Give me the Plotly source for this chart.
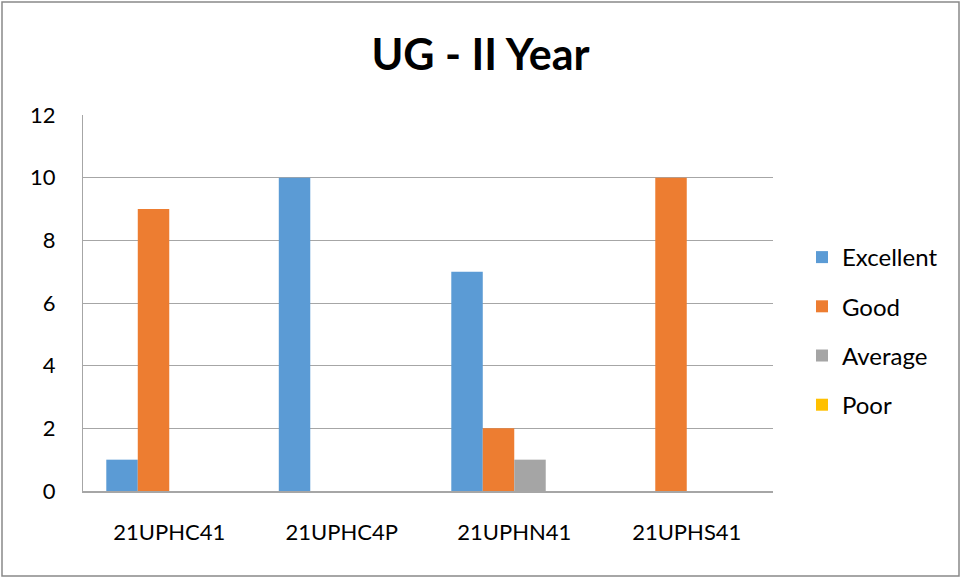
import plotly.graph_objects as go

# data
courses = ["21UPHC41", "21UPHC4P", "21UPHN41", "21UPHS41"]
excellent = [1, 10, 7, 0]
good = [9, 0, 2, 10]
average = [0, 0, 1, 0]
poor = [0, 0, 0, 0]

series = [
    ("Excellent", excellent, "#5B9BD5"),
    ("Good", good, "#ED7D31"),
    ("Average", average, "#A5A5A5"),
    ("Poor", poor, "#FFC000"),
]

font_family = "Lato, Open Sans, sans-serif"

fig = go.Figure()
for name, vals, color in series:
    fig.add_trace(go.Bar(
        x=courses, y=vals, name=name,
        marker=dict(color=color, line=dict(width=0)),
        legendgroup=name,
    ))

fig.update_layout(
    width=961, height=578,
    barmode="group",
    bargap=0.27, bargroupgap=0,
    paper_bgcolor="white", plot_bgcolor="white",
    margin=dict(l=83, r=188, t=115, b=87),
    font=dict(family=font_family, size=22, color="#000000"),
    title=dict(
        text="<b>UG - II Year</b>",
        x=0.5, xref="container", xanchor="center",
        y=0.905, yanchor="middle",
        font=dict(size=43, family=font_family),
    ),
    legend=dict(
        x=1.042, xanchor="left", y=0.4255, yanchor="middle",
        font=dict(size=24),
        tracegroupgap=15,
        itemclick=False,
    ),
    showlegend=True,
    shapes=[dict(
        type="rect", xref="paper", yref="paper",
        x0=-81 / 690, x1=1 + 186 / 690, y0=-85 / 376, y1=1 + 113 / 376,
        line=dict(color="#898989", width=1.5),
    )],
)

fig.update_yaxes(
    range=[0, 12], dtick=2,
    showgrid=True, gridcolor="#A6A6A6", gridwidth=1,
    zeroline=False,
    showline=True, linecolor="#A6A6A6", linewidth=1,
    ticks="", ticklabelstandoff=22,
)
fig.update_xaxes(
    showgrid=False,
    showline=True, linecolor="#A6A6A6", linewidth=1.5,
    ticks="", ticklabelstandoff=21,
)

fig.write_html(
    "out.html",
    config={"displayModeBar": False},
    post_script="document.body.style.margin='0';",
)
